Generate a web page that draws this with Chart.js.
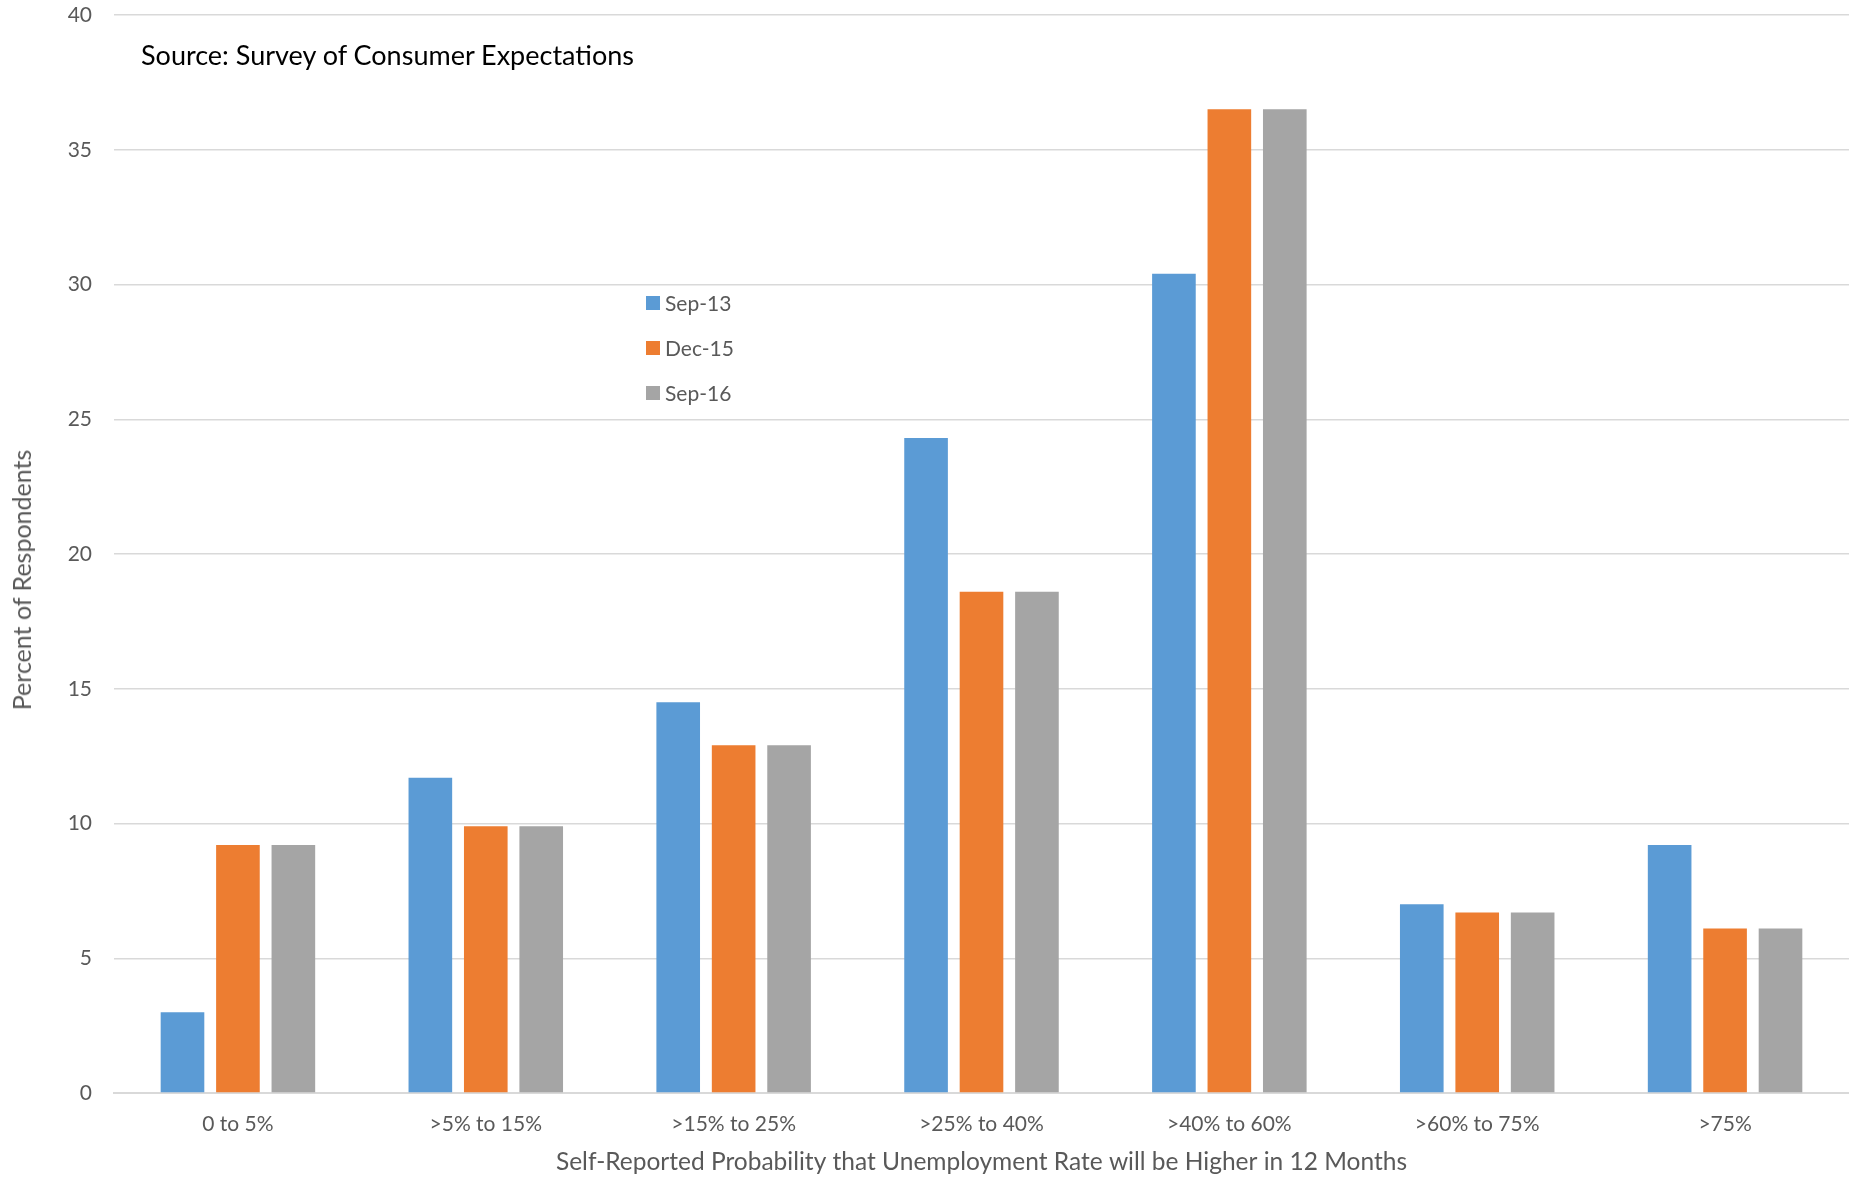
<!DOCTYPE html>
<html>
<head>
<meta charset="utf-8">
<script src="https://cdn.jsdelivr.net/npm/chart.js@4/dist/chart.umd.min.js"></script>
<style>
  html, body { margin: 0; padding: 0; background: #fff; }
  #wrap { position: relative; width: 1849px; height: 1177px; font-family: Lato, "Open Sans", sans-serif; }
  #chart { position: absolute; left: 0; top: 0; }
  #source { position: absolute; left: 141px; top: 38px; font-size: 27px; color: #000; white-space: nowrap; }
  #ytitle { position: absolute; left: 21px; top: 580px; transform: translate(-50%, -50%) rotate(-90deg); font-size: 25px; color: #595959; white-space: nowrap; }
  #legend { position: absolute; left: 646px; top: 280px; font-size: 21px; color: #595959; }
  .item { display: flex; align-items: center; height: 45px; }
  .item .sw { width: 14px; height: 14px; margin-right: 5px; }
</style>
</head>
<body>
<div id="wrap">
  <canvas id="chart" width="1849" height="1177"></canvas>
  <div id="source">Source: Survey of Consumer Expectations</div>
  <div id="ytitle">Percent of Respondents</div>
  <div id="legend"></div>
</div>
<script>
// categories and series
const categories = ['0 to 5%', '>5% to 15%', '>15% to 25%', '>25% to 40%', '>40% to 60%', '>60% to 75%', '>75%'];
const sep13 = [3.0, 11.7, 14.5, 24.3, 30.4, 7.0, 9.2];
const dec15 = [9.2, 9.9, 12.9, 18.6, 36.5, 6.7, 6.1];
const sep16 = [9.2, 9.9, 12.9, 18.6, 36.5, 6.7, 6.1];
const seriesNames = ['Sep-13', 'Dec-15', 'Sep-16'];
const seriesColors = ['#5B9BD5', '#ED7D31', '#A5A5A5'];
const yTicks = [0, 5, 10, 15, 20, 25, 30, 35, 40];

const gridColor = '#D9D9D9';
const textColor = '#595959';

// HTML legend placed inside the plot like the original
const legendEl = document.getElementById('legend');
seriesNames.forEach((name, i) => {
    const row = document.createElement('div');
    row.className = 'item';
    row.innerHTML = '<span class="sw" style="background:' + seriesColors[i] + '"></span><span>' + name + '</span>';
    legendEl.appendChild(row);
});

const ctx = document.getElementById('chart').getContext('2d');
new Chart(ctx, {
    type: 'bar',
    data: {
        labels: categories,
        datasets: [sep13, dec15, sep16].map((vals, i) => ({
            label: seriesNames[i],
            data: vals,
            backgroundColor: seriesColors[i],
            categoryPercentage: 0.671,
            barPercentage: 0.787
        }))
    },
    options: {
        responsive: false,
        animation: false,
        devicePixelRatio: 1,
        layout: { padding: 0 },
        plugins: {
            legend: { display: false },
            tooltip: { enabled: false }
        },
        scales: {
            x: {
                grid: { display: false, drawTicks: false },
                border: { display: true, color: gridColor, width: 2 },
                ticks: {
                    color: textColor,
                    font: { family: 'Lato', size: 21 },
                    padding: 19,
                    maxRotation: 0
                },
                title: {
                    display: true,
                    text: 'Self-Reported Probability that Unemployment Rate will be Higher in 12 Months',
                    color: textColor,
                    font: { family: 'Lato', size: 24.5 },
                    padding: { top: 4, bottom: 0 }
                },
                afterFit: (scale) => { scale.height = 84; }
            },
            y: {
                min: 0,
                max: 40,
                afterBuildTicks: (scale) => { scale.ticks = yTicks.map(v => ({ value: v })); },
                grid: { color: gridColor, lineWidth: 1.5, drawTicks: false },
                border: { display: false },
                ticks: {
                    color: textColor,
                    font: { family: 'Lato', size: 21 },
                    padding: 22
                },
                afterFit: (scale) => {
                    scale.width = 114;
                    scale.paddingTop = 15;   // top gridline sits near the canvas edge
                    scale.paddingBottom = 0;
                }
            }
        }
    }
});
</script>
</body>
</html>
